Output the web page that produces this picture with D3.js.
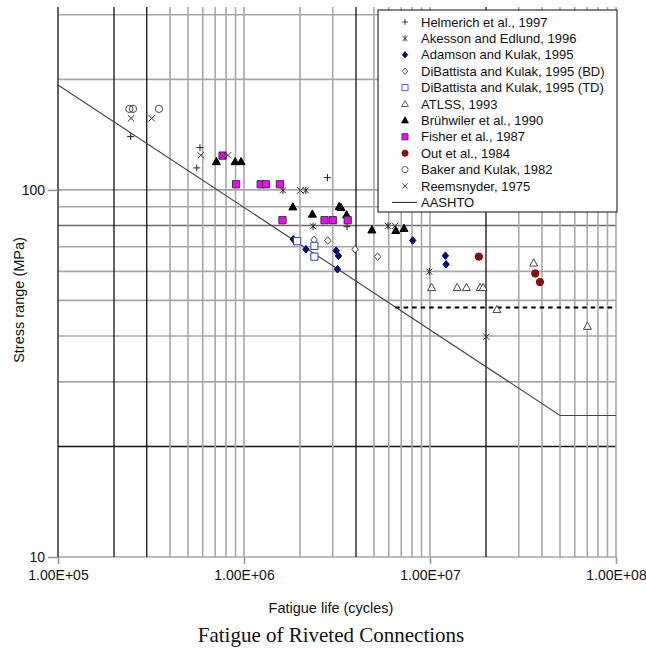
<!DOCTYPE html>
<html>
<head>
<meta charset="utf-8">
<script src="https://cdn.jsdelivr.net/npm/d3@7"></script>
<style>
  body { margin: 0; background: #fff; }
  text { font-family: "Liberation Sans", Arial, sans-serif; fill: #111; }
</style>
</head>
<body>
<svg id="chart" width="646" height="652"></svg>
<script>
// data: [fatigue life (cycles), stress range (MPa)]
const helmerich = [[2.46e5, 139.7], [5.80e5, 130.4], [5.57e5, 114.8], [2.81e6, 108.0], [3.58e6, 79.4]];
const akesson = [[1.62e6, 99.7], [2.15e6, 99.7], [2.35e6, 79.6], [5.94e6, 79.8], [9.91e6, 59.9]];
const adamson = [[1.84e6, 73.4], [2.15e6, 68.9], [3.13e6, 68.3], [3.22e6, 66.1], [3.18e6, 60.8],
                 [8.07e6, 72.8], [1.21e7, 66.2], [1.22e7, 62.7]];
const dibattistaBD = [[2.38e6, 73.1], [2.82e6, 72.8], [3.95e6, 68.9], [5.23e6, 65.8]];
const dibattistaTD = [[1.93e6, 72.5], [2.39e6, 70.4], [2.39e6, 65.8]];
const atlss = [[1.02e7, 54.2], [1.40e7, 54.2], [1.57e7, 54.2], [1.86e7, 54.2], [1.93e7, 54.2],
               [2.29e7, 47.2], [3.61e7, 63.2], [7.02e7, 42.5]];
const bruhwiler = [[7.11e5, 119.4], [8.96e5, 119.4], [9.64e5, 119.4], [1.83e6, 89.9], [2.33e6, 85.9],
                   [3.25e6, 90.1], [3.32e6, 89.6], [3.56e6, 85.5], [4.87e6, 77.8], [6.55e6, 77.5], [7.25e6, 78.5]];
const fisher = [[7.67e5, 124.0], [9.06e5, 103.6], [1.23e6, 103.6], [1.31e6, 103.6], [1.56e6, 103.6],
                [1.61e6, 82.7], [2.71e6, 82.7], [3.00e6, 82.7], [3.61e6, 82.7]];
const out = [[1.83e7, 65.8], [3.68e7, 59.2], [3.90e7, 56.1]];
const baker = [[2.42e5, 166.3], [2.53e5, 166.3], [3.49e5, 166.3]];
const reemsnyder = [[2.47e5, 156.7], [3.19e5, 156.7], [5.85e5, 124.3], [7.67e5, 124.0], [8.20e5, 124.2],
                    [2.01e6, 99.7], [6.49e6, 79.8], [2.01e7, 39.8]];
const aashto = [[1e5, 193.2], [5.0e7, 24.3], [1e8, 24.3]];
const cafl = [[6.5e6, 47.8], [1e8, 47.8]];

const seriesNames = ["Helmerich et al., 1997", "Akesson and Edlund, 1996", "Adamson and Kulak, 1995",
  "DiBattista and Kulak, 1995 (BD)", "DiBattista and Kulak, 1995 (TD)", "ATLSS, 1993",
  "Brühwiler et al., 1990", "Fisher et al., 1987", "Out et al., 1984", "Baker and Kulak, 1982",
  "Reemsnyder, 1975", "AASHTO"];

const xTickValues = [1e5, 1e6, 1e7, 1e8];
const xTickLabels = ["1.00E+05", "1.00E+06", "1.00E+07", "1.00E+08"];
const yTickValues = [10, 100];
const yTickLabels = ["10", "100"];
const yGridValues = [10, 20, 30, 40, 50, 60, 70, 80, 90, 100, 200, 300];
const xGridDark = [2e5, 3e5, 4e6, 2e7];
const yGridDark = [20];

const svg = d3.select("#chart");
svg.append("rect").attr("width", 646).attr("height", 652).attr("fill", "#fff");

const plotLeft = 58, plotRight = 616, plotTop = 7, plotBottom = 557;
const x = d3.scaleLog().domain([1e5, 1e8]).range([plotLeft, plotRight]);
const y = d3.scaleLog().domain([10, 315]).range([plotBottom, plotTop]);

const isDarkX = d => d === 1e5 || xGridDark.some(v => Math.abs(v - d) / v < 1e-6);

// grid
const grid = svg.append("g");
grid.selectAll("line.h").data(yGridValues).join("line")
    .attr("x1", plotLeft).attr("x2", plotRight)
    .attr("y1", d => y(d)).attr("y2", d => y(d))
    .attr("stroke", d => yGridDark.includes(d) ? "#111" : (d === 80 ? "#6a6a6a" : "#a8a8a8"))
    .attr("stroke-width", d => yGridDark.includes(d) ? 1.3 : 1.6);

grid.selectAll("line.v").data(x.ticks()).join("line")
    .attr("x1", d => x(d)).attr("x2", d => x(d))
    .attr("y1", plotTop).attr("y2", plotBottom)
    .attr("stroke", d => isDarkX(d) ? "#111" : "#a8a8a8")
    .attr("stroke-width", d => isDarkX(d) ? 1.3 : 1.6);

// axes
const xAxis = svg.append("g")
    .attr("transform", `translate(0,${plotBottom})`)
    .call(d3.axisBottom(x).tickValues(xTickValues).tickFormat((d, i) => xTickLabels[i]).tickSize(7).tickPadding(6));
const yAxis = svg.append("g")
    .attr("transform", `translate(${plotLeft},0)`)
    .call(d3.axisLeft(y).tickValues(yTickValues).tickFormat((d, i) => yTickLabels[i]).tickSize(10).tickPadding(3));
[xAxis, yAxis].forEach(a => {
    a.select(".domain").remove();
    a.selectAll(".tick line").attr("stroke", "#999").attr("stroke-width", 1.6);
    a.selectAll(".tick text").attr("font-size", 14).attr("fill", "#111")
        .attr("font-family", "'Liberation Sans', Arial, sans-serif");
});

// AASHTO line and dashed threshold
const line = d3.line().x(d => x(d[0])).y(d => y(d[1]));
svg.append("path").datum(aashto).attr("d", line)
    .attr("fill", "none").attr("stroke", "#444").attr("stroke-width", 1.1);
svg.append("path").datum(cafl).attr("d", line)
    .attr("fill", "none").attr("stroke", "#000").attr("stroke-width", 2).attr("stroke-dasharray", "4.5,4");

// marker shapes
const shapes = {
    plus: "M-3.5,0H3.5M0,-3.5V3.5",
    asterisk: "M-3,-3L3,3M-3,3L3,-3M0,-3.6V3.6",
    times: "M-3.2,-3.2L3.2,3.2M-3.2,3.2L3.2,-3.2",
    diamond: "M0,-3.8L3.2,0L0,3.8L-3.2,0Z",
    square: "M-3.6,-3.6H3.6V3.6H-3.6Z",
    triangle: "M0,-4.2L4,3L-4,3Z",
    circle: d3.symbol(d3.symbolCircle, 42)()
};

const series = [
    {name: seriesNames[0], data: helmerich, shape: "plus", fill: "none", stroke: "#222"},
    {name: seriesNames[1], data: akesson, shape: "asterisk", fill: "none", stroke: "#222"},
    {name: seriesNames[2], data: adamson, shape: "diamond", fill: "#0a0a80", stroke: "#0a0a80"},
    {name: seriesNames[3], data: dibattistaBD, shape: "diamond", fill: "#fff", stroke: "#444"},
    {name: seriesNames[4], data: dibattistaTD, shape: "square", fill: "#fff", stroke: "#2a3fe0"},
    {name: seriesNames[5], data: atlss, shape: "triangle", fill: "#fff", stroke: "#444"},
    {name: seriesNames[6], data: bruhwiler, shape: "triangle", fill: "#000", stroke: "#000"},
    {name: seriesNames[7], data: fisher, shape: "square", fill: "#ff00ff", stroke: "#333"},
    {name: seriesNames[8], data: out, shape: "circle", fill: "#8b0a0a", stroke: "#8b0a0a"},
    {name: seriesNames[9], data: baker, shape: "circle", fill: "none", stroke: "#444"},
    {name: seriesNames[10], data: reemsnyder, shape: "times", fill: "none", stroke: "#333"}
];

const marks = svg.append("g");
series.forEach(s => {
    marks.append("g").selectAll("path").data(s.data).join("path")
        .attr("d", shapes[s.shape])
        .attr("transform", d => `translate(${x(d[0])},${y(d[1])})`)
        .attr("fill", s.fill).attr("stroke", s.stroke).attr("stroke-width", 1);
});

// legend
const legend = svg.append("g");
legend.append("rect")
    .attr("x", 378).attr("y", 10).attr("width", 239).attr("height", 202)
    .attr("fill", "#fff").attr("stroke", "#333").attr("stroke-width", 1.2);
const rowY = i => 22 + i * 16.4;
series.forEach((s, i) => {
    legend.append("path").attr("d", shapes[s.shape])
        .attr("transform", `translate(405,${rowY(i)}) scale(0.85)`)
        .attr("fill", s.fill).attr("stroke", s.stroke).attr("stroke-width", 1);
    legend.append("text").attr("x", 421).attr("y", rowY(i)).attr("dy", "0.36em")
        .attr("font-size", 13).text(s.name);
});
legend.append("line").attr("x1", 392).attr("x2", 417)
    .attr("y1", rowY(11)).attr("y2", rowY(11)).attr("stroke", "#333").attr("stroke-width", 1.1);
legend.append("text").attr("x", 421).attr("y", rowY(11)).attr("dy", "0.36em")
    .attr("font-size", 13).text(seriesNames[11]);

// titles
svg.append("text").attr("x", 331).attr("y", 613).attr("text-anchor", "middle")
    .attr("font-size", 14.5).text("Fatigue life (cycles)");
svg.append("text").attr("transform", "translate(24,300) rotate(-90)").attr("text-anchor", "middle")
    .attr("font-size", 14.5).text("Stress range (MPa)");
svg.append("text").attr("x", 331).attr("y", 642).attr("text-anchor", "middle")
    .attr("font-size", 21).style("font-family", "'Liberation Serif', 'Times New Roman', serif")
    .text("Fatigue of Riveted Connections");
</script>
</body>
</html>
